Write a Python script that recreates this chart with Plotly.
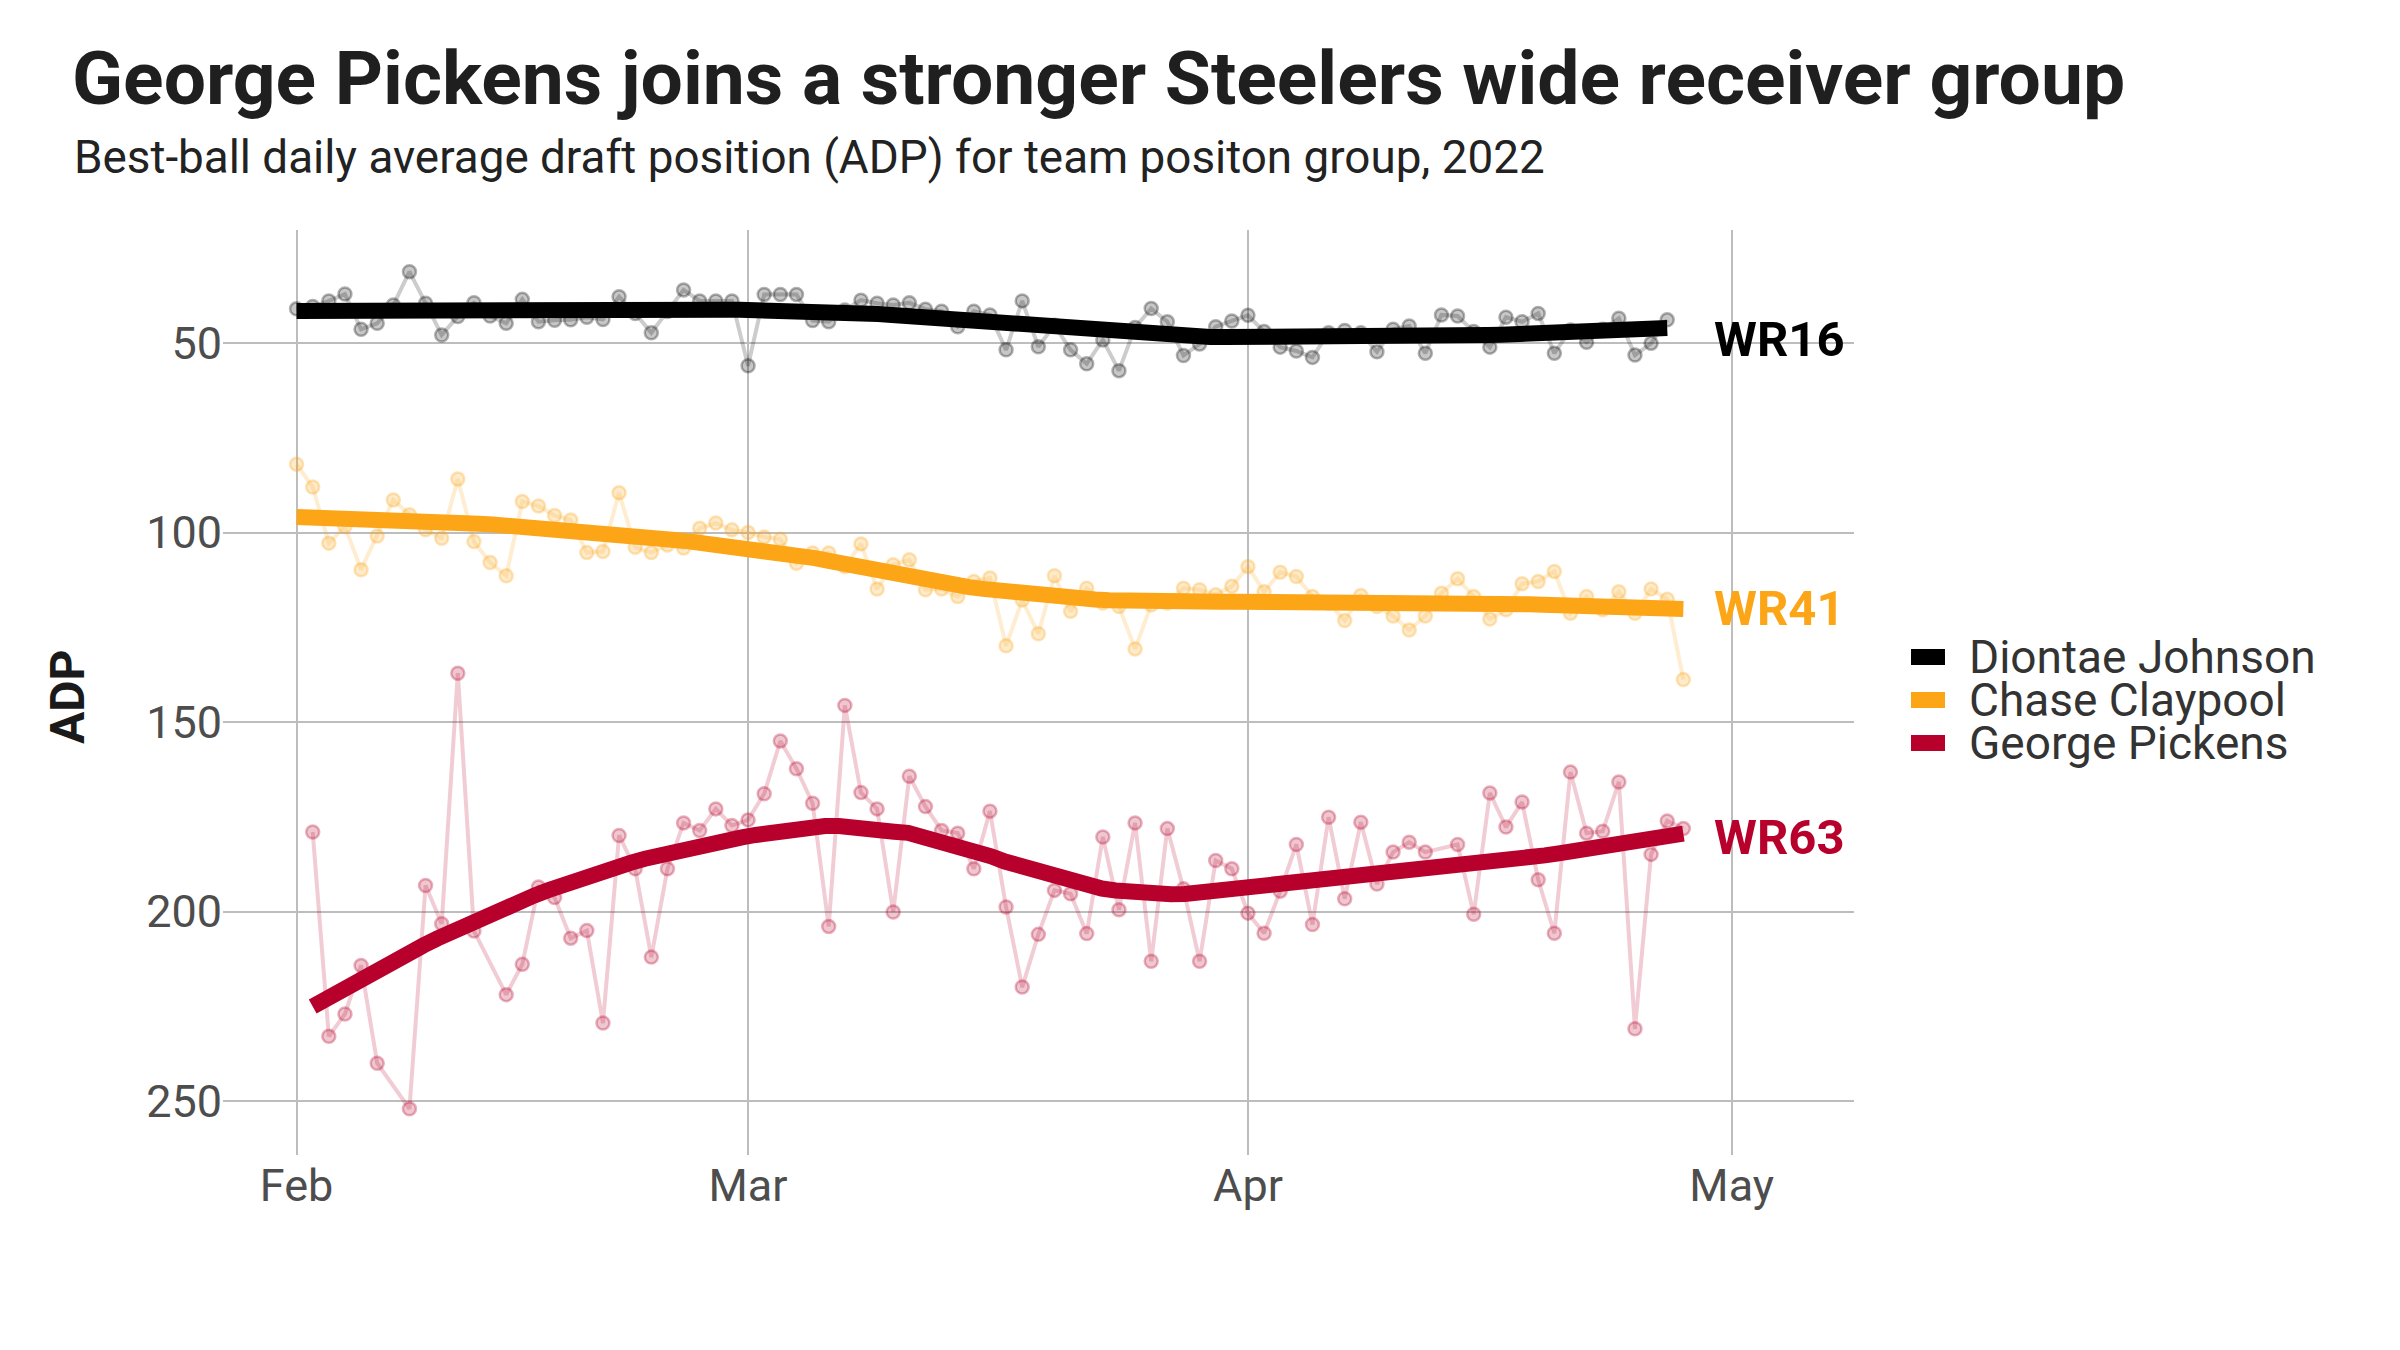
import numpy as np
import pandas as pd
import plotly.graph_objects as go

# ---------------- data ----------------
start_date = "2022-02-01"
n_days = 87
dates = pd.date_range(start_date, periods=n_days, freq="D")

players = ["Diontae Johnson", "Chase Claypool", "George Pickens"]
wr_labels = ["WR16", "WR41", "WR63"]
label_adp = [49.0, 120.0, 180.5]

diontae_adp = [41.0, 40.4, 38.9, 37.1, 46.4, 44.8, 40.0, 31.2, 39.5, 47.9,
               43.0, 39.4, 42.9, 44.8, 38.5, 44.4, 44.0, 43.9, 43.2, 43.8,
               37.8, 42.2, 47.3, 41.7, 36.0, 38.9, 38.9, 38.9, 56.0, 37.2,
               37.2, 37.2, 44.1, 44.4, 41.3, 38.7, 39.5, 40.0, 39.4, 41.1,
               41.6, 45.7, 41.6, 42.6, 51.8, 38.9, 51.0, 45.3, 51.8, 55.5,
               49.2, 57.3, 45.9, 40.9, 44.4, 53.3, 50.3, 45.7, 44.2, 42.7,
               47.0, 51.1, 52.1, 53.8, 47.3, 46.7, 47.3, 52.3, 46.4, 45.5,
               52.7, 42.6, 42.9, 47.0, 51.1, 43.2, 44.4, 42.2, 52.7, 46.6,
               49.8, 46.4, 43.5, 53.2, 50.1, 43.9, None]

claypool_adp = [82.0, 88.0, 102.8, 98.4, 109.8, 100.9, 91.4, 95.3, 99.3, 101.5,
                85.9, 102.4, 107.9, 111.4, 91.8, 93.0, 95.5, 96.7, 105.3, 105.0,
                89.5, 103.9, 105.3, 103.3, 104.1, 98.9, 97.5, 99.3, 100.0, 101.2,
                101.8, 108.1, 105.4, 105.4, 109.0, 103.0, 114.9, 108.5, 107.2, 115.1,
                114.9, 116.9, 112.9, 112.0, 129.9, 117.8, 126.7, 111.4, 120.8, 114.7,
                118.6, 119.5, 130.7, 119.1, 118.6, 114.7, 115.1, 116.4, 114.2, 109.0,
                115.6, 110.5, 111.6, 116.9, 118.6, 123.2, 116.6, 119.5, 122.0, 125.7,
                122.0, 116.0, 112.2, 116.9, 122.8, 120.4, 113.5, 112.9, 110.3, 121.3,
                116.9, 120.4, 115.6, 121.3, 114.9, 117.6, 138.8]

pickens_adp = [None, 179.0, 232.9, 227.0, 214.2, 240.0, None, 252.0, 193.1, 203.2,
               137.1, 205.1, None, 221.9, 213.9, 193.5, 196.3, 207.0, 205.0, 229.4,
               179.9, 188.7, 212.0, 188.7, 176.6, 178.6, 172.9, 177.3, 175.8, 168.9,
               155.0, 162.3, 171.4, 203.9, 145.6, 168.6, 172.9, 200.1, 164.3, 172.3,
               178.6, 179.3, 188.7, 173.5, 198.8, 219.9, 206.0, 194.4, 195.3, 205.8,
               180.3, 199.5, 176.6, 213.1, 178.1, 194.0, 213.1, 186.5, 188.7, 200.4,
               205.7, 194.6, 182.3, 203.4, 175.1, 196.6, 176.4, 192.7, 184.3, 181.7,
               184.3, None, 182.3, 200.7, 168.7, 177.7, 171.1, 191.6, 205.7, 163.2,
               179.3, 178.8, 165.8, 230.9, 184.9, 176.1, 178.1]

series = [diontae_adp, claypool_adp, pickens_adp]
colors = ["#000000", "#FCA517", "#B7002B"]
rgb = [(0, 0, 0), (252, 165, 23), (183, 0, 43)]

x_ticks = ["2022-02-01", "2022-03-01", "2022-04-01", "2022-05-01"]
x_tick_text = ["Feb", "Mar", "Apr", "May"]
y_ticks = [50, 100, 150, 200, 250]


# ---------------- loess smoother (like geom_smooth default) ----------------
def loess(x, y, span=0.75, degree=2, n_out=100):
    x = np.asarray(x, float)
    y = np.asarray(y, float)
    m = ~np.isnan(y)
    x, y = x[m], y[m]
    n = len(x)
    q = int(np.floor(span * n))
    xs = np.linspace(x.min(), x.max(), n_out)
    out = []
    for x0 in xs:
        d = np.abs(x - x0)
        h = np.sort(d)[q - 1]
        w = np.clip(1 - (d / h) ** 3, 0, 1) ** 3
        X = np.vander(x - x0, degree + 1, increasing=True)
        sw = np.sqrt(w)
        beta = np.linalg.lstsq(X * sw[:, None], y * sw, rcond=None)[0]
        out.append(beta[0])
    return xs, np.array(out)


day_num = np.arange(n_days)
t0 = pd.Timestamp(start_date)

fig = go.Figure()
FONT = "Roboto"

for name, vals, c, (r, g, b) in zip(players, series, colors, rgb):
    yv = np.array([np.nan if v is None else v for v in vals], float)
    fig.add_trace(go.Scatter(
        x=dates, y=yv, mode="lines+markers", connectgaps=True,
        line=dict(color=f"rgba({r},{g},{b},0.2)", width=4),
        marker=dict(size=13, color=f"rgba({r},{g},{b},0.22)",
                    line=dict(color=f"rgba({r},{g},{b},0.3)", width=2.5)),
        showlegend=False, hoverinfo="skip", name=name))

for name, vals, c in zip(players, series, colors):
    yv = np.array([np.nan if v is None else v for v in vals], float)
    xs, ys = loess(day_num, yv, span=0.75)
    xd = t0 + pd.to_timedelta(xs, unit="D")
    fig.add_trace(go.Scatter(
        x=xd, y=ys, mode="lines", line=dict(color=c, width=16),
        name=name, showlegend=False))

# right-end labels
for lab, ya, c in zip(wr_labels, label_adp, colors):
    fig.add_annotation(x="2022-04-29 18:00", y=ya, xref="x", yref="y",
                       text=f"<b>{lab}</b>", showarrow=False, xanchor="left",
                       yanchor="middle",
                       font=dict(family=FONT, size=49, color=c))

# custom legend
L_PLOT, W_PLOT, B_PLOT, H_PLOT = 223, 1631, 1155, 925
leg_y_px = [657, 700, 743]
for name, c, ypx in zip(players, colors, leg_y_px):
    yc = (B_PLOT - ypx) / H_PLOT
    fig.add_shape(type="rect", xref="paper", yref="paper",
                  x0=(1911 - L_PLOT) / W_PLOT, x1=(1945 - L_PLOT) / W_PLOT,
                  y0=yc - 8 / H_PLOT, y1=yc + 8 / H_PLOT,
                  fillcolor=c, line=dict(width=0))
    fig.add_annotation(x=(1967 - L_PLOT) / W_PLOT, y=yc, xref="paper", yref="paper",
                       text=name, showarrow=False, xanchor="left", yanchor="middle",
                       font=dict(family=FONT, size=46, color="#333333"))

# subtitle
fig.add_annotation(x=(72 - L_PLOT) / W_PLOT, y=(B_PLOT - 158) / H_PLOT,
                   xref="paper", yref="paper", showarrow=False,
                   xanchor="left", yanchor="middle",
                   text="Best-ball daily average draft position (ADP) for team positon group, 2022",
                   font=dict(family=FONT, size=45.8, color="#222222"))

# y-axis title
fig.add_annotation(x=(67 - L_PLOT) / W_PLOT, y=(B_PLOT - 697) / H_PLOT,
                   xref="paper", yref="paper", showarrow=False, textangle=-90,
                   xanchor="center", yanchor="middle", text="<b>ADP</b>",
                   font=dict(family=FONT, size=48, color="#1a1a1a"))

fig.update_layout(
    width=2400, height=1350,
    margin=dict(l=223, r=546, t=230, b=195),
    paper_bgcolor="white", plot_bgcolor="white",
    title=dict(text="<b>George Pickens joins a stronger Steelers wide receiver group</b>",
               x=72 / 2400, xanchor="left", xref="container",
               y=1 - 78 / 1350, yanchor="middle", yref="container",
               font=dict(family=FONT, size=75, color="#1f1f1f")),
    font=dict(family=FONT),
    showlegend=False,
)
fig.update_xaxes(type="date", range=["2022-01-27 10:30", "2022-05-08 14:00"],
                 tickvals=x_ticks, ticktext=x_tick_text,
                 showgrid=True, gridcolor="#bdbdbd", gridwidth=2,
                 zeroline=False, showline=False, ticks="",
                 tickfont=dict(family=FONT, size=45, color="#4d4d4d"))
fig.update_yaxes(range=[264.2, 20.2], tickvals=y_ticks,
                 showgrid=True, gridcolor="#bdbdbd", gridwidth=2,
                 zeroline=False, showline=False, ticks="",
                 tickfont=dict(family=FONT, size=45, color="#4d4d4d"))

fig.write_html("out.html", config={"displayModeBar": False},
               post_script="document.body.style.margin='0px';document.body.style.overflow='hidden';")
